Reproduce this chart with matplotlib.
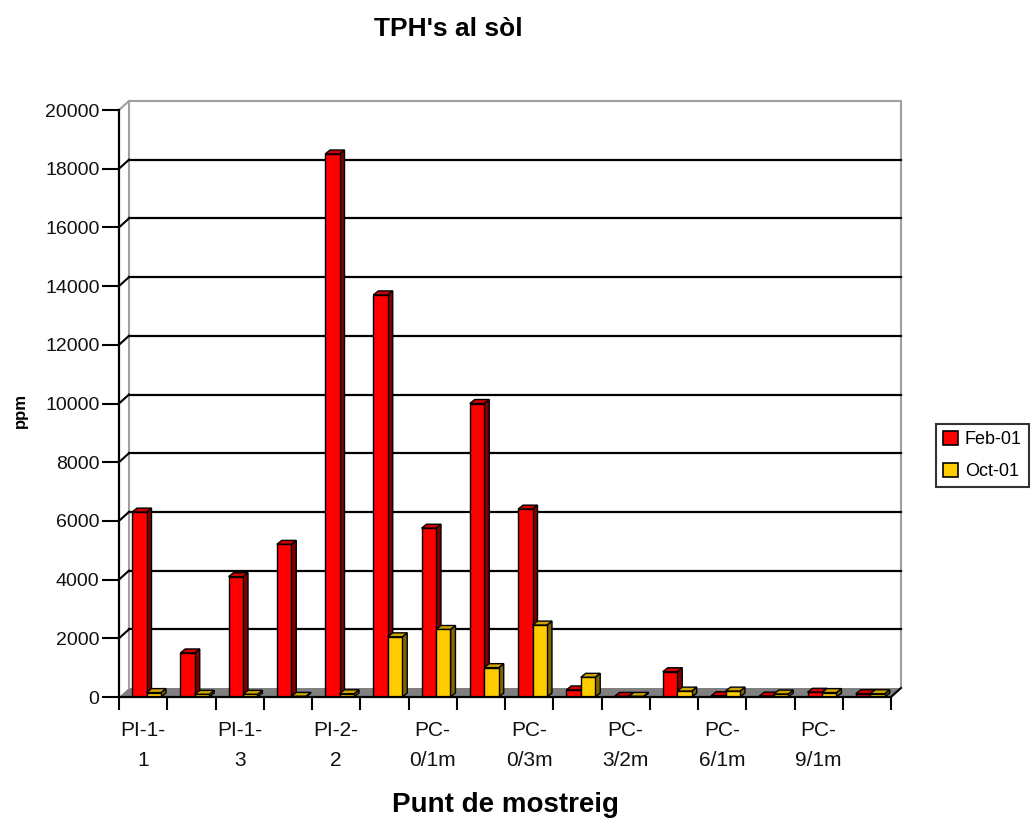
import matplotlib
matplotlib.use("Agg")
import matplotlib.pyplot as plt
from matplotlib.patches import Polygon, Patch
from matplotlib.lines import Line2D
import numpy as np

plt.rcParams['font.family'] = ['Liberation Sans', 'DejaVu Sans']

# ---- data -------------------------------------------------------------
series_names = ["Feb-01", "Oct-01"]
feb_01 = [6300, 1500, 4100, 5200, 18500, 13700, 5750, 10000,
          6400, 240, 20, 860, 40, 30, 160, 110]
oct_01 = [150, 90, 90, 20, 110, 2050, 2300, 1000,
          2450, 670, 20, 200, 200, 100, 150, 110]
# every second category carries a label
tick_labels = ["PI-1-\n1", "PI-1-\n3", "PI-2-\n2", "PC-\n0/1m",
               "PC-\n0/3m", "PC-\n3/2m", "PC-\n6/1m", "PC-\n9/1m"]
y_ticks = list(range(0, 20001, 2000))

title = "TPH's al sòl"
x_title = "Punt de mostreig"
y_title = "ppm"

# ---- styling ------------------------------------------------------------
RED, RED_SIDE, RED_TOP = "#FF0000", "#800000", "#D00000"
YEL, YEL_SIDE, YEL_TOP = "#FFCC00", "#806600", "#CCA300"
FLOOR = "#808080"
WALL = "#A0A0A0"

W, H = 1031, 822
fig = plt.figure(figsize=(W / 100, H / 100), dpi=100)
fig.patch.set_facecolor("white")

# front plane of the plot: x 119..891 px, y 697..110 px
ax = fig.add_axes([119 / W, (H - 697) / H, 772 / W, 587 / H])
n = len(feb_01)
ax.set_xlim(0, n)
ax.set_ylim(0, 20000)

px_x = n / 772.0          # category units per pixel
px_y = 20000 / 587.0      # value units per pixel

# depth of the wall/floor and of each bar
dxw, dyw = 10 * px_x, 9 * px_y
dxb, dyb = 5 * px_x, 4 * px_y

# floor
ax.add_patch(Polygon([(0, 0), (n, 0), (n + dxw, dyw), (dxw, dyw)],
                     closed=True, facecolor=FLOOR, edgecolor="none",
                     zorder=1, clip_on=False))
ax.add_line(Line2D([n, n + dxw], [0, dyw], color="black", lw=1.5,
                   zorder=2, clip_on=False))

# back wall outline
ytop = y_ticks[-1]
ax.add_line(Line2D([dxw, dxw, n + dxw, n + dxw],
                   [dyw, ytop + dyw, ytop + dyw, dyw],
                   color=WALL, lw=1.5, zorder=1, clip_on=False))
ax.add_line(Line2D([0, dxw], [ytop, ytop + dyw], color=WALL, lw=1.5,
                   zorder=1, clip_on=False))

# gridlines on the back wall with their connectors to the front axis
for v in y_ticks[1:-1]:
    ax.add_line(Line2D([dxw, n + dxw], [v + dyw, v + dyw], color="black",
                       lw=1.6, zorder=1.5, clip_on=False))
    ax.add_line(Line2D([0, dxw], [v, v + dyw], color="black", lw=1.5,
                       zorder=1.5, clip_on=False))


def draw_bars(x0s, values, bw, front, side, top, z):
    bars = ax.bar(x0s, values, width=bw, align="edge", color=front,
                  edgecolor="black", linewidth=1.0, zorder=z + 0.2)
    for rect in bars:
        x0 = rect.get_x()
        x1 = x0 + rect.get_width()
        h = rect.get_height()
        ax.add_patch(Polygon([(x1, 0), (x1 + dxb, dyb), (x1 + dxb, h + dyb),
                              (x1, h)], closed=True, facecolor=side,
                             edgecolor="black", lw=1.0, zorder=z,
                             clip_on=False))
        ax.add_patch(Polygon([(x0, h), (x0 + dxb, h + dyb),
                              (x1 + dxb, h + dyb), (x1, h)], closed=True,
                             facecolor=top, edgecolor="black", lw=1.0,
                             zorder=z + 0.1, clip_on=False))
    return bars


idx = np.arange(n)
bw = 0.30
draw_bars(idx + 0.27, feb_01, bw, RED, RED_SIDE, RED_TOP, 3)
draw_bars(idx + 0.27 + bw, oct_01, bw, YEL, YEL_SIDE, YEL_TOP, 4)

# axes / ticks
for s in ["top", "right"]:
    ax.spines[s].set_visible(False)
for s in ["left", "bottom"]:
    ax.spines[s].set_color("black")
    ax.spines[s].set_linewidth(1.6)
    ax.spines[s].set_zorder(6)

ax.set_yticks(y_ticks)
ax.set_yticklabels([str(v) for v in y_ticks], fontsize=14, color="#111111")
ax.tick_params(axis="y", direction="out", length=12, width=1.5, pad=2)

ax.set_xticks(np.arange(n + 1))
ax.set_xticklabels([])
ax.tick_params(axis="x", which="major", direction="out", length=9,
               width=1.5)
ax.set_xticks(np.arange(0, n, 2) + 0.5, minor=True)
ax.set_xticklabels(tick_labels, minor=True, fontsize=15, linespacing=1.75,
                   color="#111111")
ax.tick_params(axis="x", which="minor", length=0, pad=17)

ax.set_facecolor("none")

# titles
fig.text(448 / W, 1 - 29 / H, title, ha="center", va="center",
         fontsize=19, fontweight="bold")
fig.text(505 / W, 1 - 805 / H, x_title, ha="center", va="center",
         fontsize=20, fontweight="bold")
fig.text(20 / W, 1 - 410 / H, y_title, ha="center", va="center",
         rotation=90, fontsize=12, fontweight="bold")

# legend
handles = [Patch(facecolor=RED, edgecolor="black", lw=1.2),
           Patch(facecolor=YEL, edgecolor="black", lw=1.2)]
leg = fig.legend(handles, series_names, loc="upper right",
                 bbox_to_anchor=(1029 / W, 1 - 424 / H),
                 fontsize=13, frameon=True, fancybox=False,
                 handlelength=0.8, handleheight=0.8, handletextpad=0.4,
                 borderpad=0.4, borderaxespad=0, labelspacing=0.8)
leg.get_frame().set_edgecolor("black")
leg.get_frame().set_linewidth(1.5)

fig.savefig("out.png", dpi=100, facecolor="white")
